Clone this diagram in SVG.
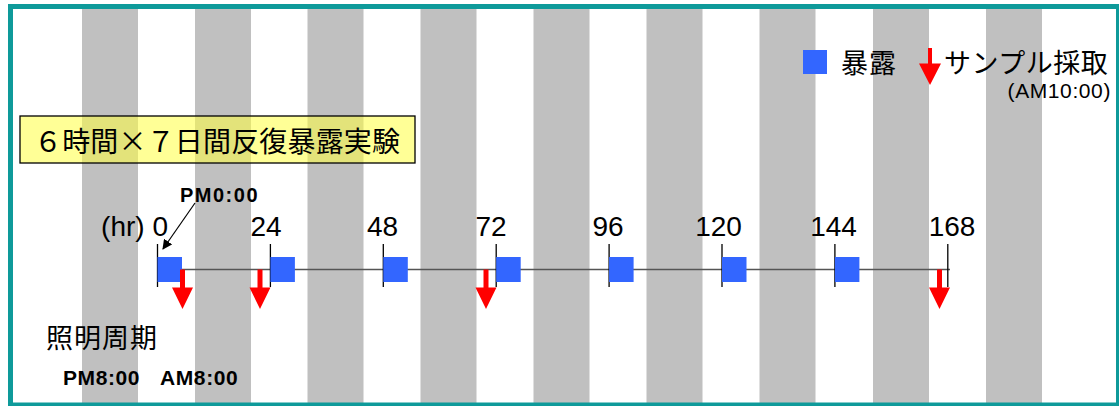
<svg xmlns="http://www.w3.org/2000/svg" width="1119" height="406" viewBox="0 0 1119 406">
<style>
.stripe{fill:#c0c0c0}
.num{font-family:"Liberation Sans",Arial,sans-serif;font-size:28px;fill:#000}
.bold{font-family:"Liberation Sans",Arial,sans-serif;font-weight:bold;fill:#000}
.cjk{font-family:"Noto Sans CJK JP","Liberation Sans",sans-serif;fill:#000}
.tick{stroke:#000;stroke-width:1.3}
.exp{fill:#3366ff}
.samp{fill:#ff0000}
</style>
<defs>
<marker id="ah" viewBox="0 0 10 10" refX="9" refY="5" markerWidth="10" markerHeight="10" markerUnits="userSpaceOnUse" orient="auto">
<path d="M0,0 L10,5 L0,10 z" fill="#000"/>
</marker>
<path id="redArrow" d="M-2.5,0 H2.5 V18 H10.5 L0,39.5 L-10.5,18 H-2.5 Z"/>
</defs>
<rect width="1119" height="406" fill="#fff"/>
<g id="stripes">
<rect class="stripe" x="82" y="9" width="56" height="394"/>
<rect class="stripe" x="195" y="9" width="56" height="394"/>
<rect class="stripe" x="307.5" y="9" width="56" height="394"/>
<rect class="stripe" x="420.5" y="9" width="56" height="394"/>
<rect class="stripe" x="533.5" y="9" width="56" height="394"/>
<rect class="stripe" x="646.5" y="9" width="56" height="394"/>
<rect class="stripe" x="759.5" y="9" width="56" height="394"/>
<rect class="stripe" x="873" y="9" width="56" height="394"/>
<rect class="stripe" x="986" y="9" width="56" height="394"/>
</g>
<rect id="frame" x="10.5" y="6.5" width="1108" height="398.5" fill="none" stroke="#0e9a9a" stroke-width="5"/>
<g id="title">
<rect x="20" y="116" width="395" height="47" fill="#ffff40" fill-opacity="0.55" stroke="#000" stroke-width="1.3"/>
<text class="cjk" x="34" y="152" font-size="28" textLength="366" lengthAdjust="spacing">６時間×７日間反復暴露実験</text>
</g>
<g id="legend">
<rect class="exp" x="803" y="50" width="24" height="24"/>
<text class="cjk" x="841" y="73" font-size="27" letter-spacing="1">暴露</text>
<path class="samp" d="M928,48 H932 V63.5 H941 L930,85 L919,63.5 H928 Z"/>
<text class="cjk" x="944" y="73" font-size="27" letter-spacing="0.5">サンプル採取</text>
<text class="num" x="1111" y="98" text-anchor="end" style="font-size:21px" letter-spacing="0.6">(AM10:00)</text>
</g>
<g id="connectors">
<line x1="157.5" y1="269.5" x2="950" y2="269.5" stroke="#555" stroke-width="1.5"/>
<line class="tick" x1="157.5" y1="244" x2="157.5" y2="287"/>
<line class="tick" x1="270.4" y1="244" x2="270.4" y2="287"/>
<line class="tick" x1="383.3" y1="244" x2="383.3" y2="287"/>
<line class="tick" x1="496.2" y1="244" x2="496.2" y2="287"/>
<line class="tick" x1="609.1" y1="244" x2="609.1" y2="287"/>
<line class="tick" x1="722" y1="244" x2="722" y2="287"/>
<line class="tick" x1="834.9" y1="244" x2="834.9" y2="287"/>
<line class="tick" x1="947.8" y1="244" x2="947.8" y2="287"/>
<line x1="195" y1="203" x2="163" y2="249" stroke="#000" stroke-width="1.2" marker-end="url(#ah)"/>
</g>
<g id="labels">
<text class="num" x="168" y="236" text-anchor="end">(hr) 0</text>
<text class="num" x="266" y="236" text-anchor="middle">24</text>
<text class="num" x="382.5" y="236" text-anchor="middle">48</text>
<text class="num" x="491" y="236" text-anchor="middle">72</text>
<text class="num" x="608" y="236" text-anchor="middle">96</text>
<text class="num" x="718.5" y="236" text-anchor="middle">120</text>
<text class="num" x="833.5" y="236" text-anchor="middle">144</text>
<text class="num" x="952" y="236" text-anchor="middle">168</text>
<text class="bold" x="180" y="202" font-size="20" letter-spacing="1.5">PM0:00</text>
</g>
<g id="exposures">
<rect class="exp" x="157.5" y="257" width="24.5" height="25"/>
<rect class="exp" x="270.4" y="257" width="24.5" height="25"/>
<rect class="exp" x="383.3" y="257" width="24.5" height="25"/>
<rect class="exp" x="496.2" y="257" width="24.5" height="25"/>
<rect class="exp" x="609.1" y="257" width="24.5" height="25"/>
<rect class="exp" x="722" y="257" width="24.5" height="25"/>
<rect class="exp" x="834.9" y="257" width="24.5" height="25"/>
</g>
<g id="samples">
<use href="#redArrow" class="samp" x="182.5" y="269.5"/>
<use href="#redArrow" class="samp" x="260" y="269.5"/>
<use href="#redArrow" class="samp" x="486" y="269.5"/>
<use href="#redArrow" class="samp" x="939.5" y="269.5"/>
</g>
<g id="lighting">
<text class="cjk" x="46" y="348" font-size="27" letter-spacing="1">照明周期</text>
<text class="bold" x="63" y="385" font-size="21" letter-spacing="0.6">PM8:00</text>
<text class="bold" x="160" y="385" font-size="21" letter-spacing="0.6">AM8:00</text>
</g>
</svg>
